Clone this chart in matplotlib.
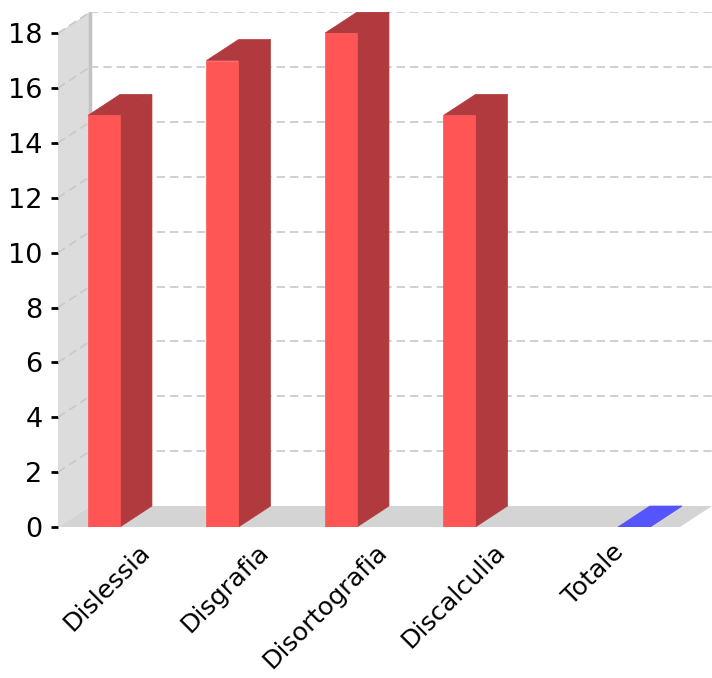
#!/usr/bin/env python3
"""Pseudo-3D bar chart of counts per learning disorder."""

from matplotlib import pyplot as plt
from matplotlib.patches import Polygon

# Data
categories = ["Dislessia", "Disgrafia", "Disortografia", "Discalculia", "Totale"]
red_values = [15, 17, 18, 15, None]
blue_values = [None, None, None, None, 0]
y_ticks = [0, 2, 4, 6, 8, 10, 12, 14, 16, 18]

# Style
RED_FRONT = "#ff5555"
RED_SIDE = "#b03a3e"
BLUE_FRONT = "#5555ff"
BLUE_SIDE = "#3b3bb3"
WALL = "#dcdcdc"
WALL_EDGE = "#c2c2c2"
FLOOR = "#d4d4d4"
GRID = "#c8c8c8"

BAR_W = 0.27      # bar width in category units
DX = 0.27         # depth offset, x (category units)
DY = 0.765        # depth offset, y (value units)
SHIFT = 0.236     # offset of each series from category centre
X_MIN, X_MAX = -0.624, 4.895
Y_TOP = 18.77
TICK_FONT = 19.5
LABEL_FONT = 18.3


def draw_bar(ax, x, value, front, side):
    """Draws one bar (side face, top and front face) starting at front-left x"""
    x0, x1 = x, x + BAR_W
    ax.add_patch(Polygon([(x1, 0), (x1 + DX, DY), (x1 + DX, value + DY), (x1, value)],
                         closed=True, facecolor=side, edgecolor=side, lw=0.5, zorder=4))
    top = side if value > 0 else front
    ax.add_patch(Polygon([(x0, value), (x0 + DX, value + DY), (x1 + DX, value + DY), (x1, value)],
                         closed=True, facecolor=top, edgecolor=top, lw=0.5, zorder=4))
    if value > 0:
        ax.add_patch(Polygon([(x0, 0), (x1, 0), (x1, value), (x0, value)],
                             closed=True, facecolor=front, edgecolor=front, lw=0.5, zorder=5))


def main():
    fig = plt.figure(figsize=(7.12, 6.78), dpi=100)
    ax = fig.add_axes([58 / 712, (678 - 527) / 678, 1 - 58 / 712, (527 - 12) / 678])
    ax.set_xlim(X_MIN, X_MAX)
    ax.set_ylim(0, Y_TOP)

    # Left wall
    wall_x = X_MIN
    ax.add_patch(Polygon([(wall_x, 0), (wall_x, 18), (wall_x + DX, 18 + DY), (wall_x + DX, DY)],
                         closed=True, facecolor=WALL, edgecolor="none", zorder=1))
    ax.plot([wall_x + DX, wall_x + DX], [DY, 18 + DY], color=WALL_EDGE, lw=2.5, zorder=2)

    # Grid lines on left wall and back plane
    for v in y_ticks[1:]:
        ax.plot([wall_x, wall_x + DX], [v, v + DY], color=GRID, lw=1.2,
                dashes=(5, 3), zorder=2)
        ax.plot([wall_x + DX, X_MAX], [v + DY, v + DY], color=GRID, lw=1.2,
                dashes=(5, 3), zorder=2)

    # Floor
    floor_right = X_MAX - DX
    ax.add_patch(Polygon([(wall_x, 0), (floor_right, 0), (X_MAX, DY), (wall_x + DX, DY)],
                         closed=True, facecolor=FLOOR, edgecolor="none", zorder=3))

    # Bars
    for i, (r, b) in enumerate(zip(red_values, blue_values)):
        if r is not None:
            draw_bar(ax, i - SHIFT - BAR_W / 2, r, RED_FRONT, RED_SIDE)
        if b is not None:
            draw_bar(ax, i + SHIFT - BAR_W / 2, b, BLUE_FRONT, BLUE_SIDE)

    # Axes cosmetics
    for spine in ax.spines.values():
        spine.set_visible(False)
    ax.set_yticks(y_ticks)
    ax.set_yticklabels([str(v) for v in y_ticks], fontsize=TICK_FONT)
    ax.tick_params(axis="y", length=5, width=2, color="black", pad=6)
    ax.set_xticks([i + 0.05 for i in range(len(categories))])
    ax.set_xticklabels(categories, fontsize=LABEL_FONT, rotation=45, ha="right",
                       rotation_mode="anchor")
    ax.tick_params(axis="x", length=0, pad=9)

    fig.savefig("out.png", dpi=100)


if __name__ == "__main__":
    main()
